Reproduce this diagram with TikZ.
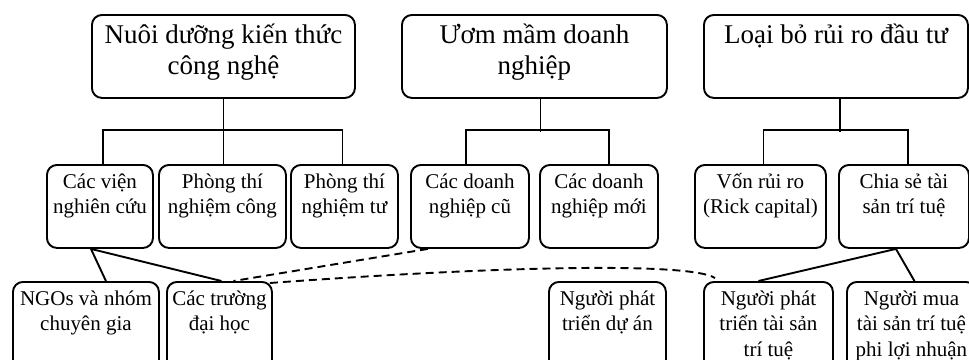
\documentclass[tikz,border=0pt]{standalone}
\usepackage{fontspec}
\setmainfont{Liberation Serif}
\begin{document}
\begin{tikzpicture}[x=1pt,y=-1pt,
  bx/.style={draw, line width=1.9pt, rounded corners=10pt, anchor=north west, inner sep=0pt},
  big/.style={anchor=north, align=center, inner sep=0pt, yshift=-5pt, font=\fontsize{27}{31}\selectfont},
  sm/.style={anchor=north, align=center, inner sep=0pt, yshift=-5pt, font=\fontsize{21}{25.5}\selectfont},
  con/.style={line width=1.9pt},
  dsh/.style={line width=1.9pt, dash pattern=on 8pt off 5pt}]
\clip (0,0) rectangle (969,359);
% top row
\node[bx, minimum width=263pt, minimum height=83pt, label={[big]north:{\rule{0pt}{24pt}Nuôi dưỡng kiến thức\\công nghệ}}] (t1) at (91,14) {};
\node[bx, minimum width=265pt, minimum height=83pt, label={[big]north:{\rule{0pt}{24pt}Ươm mầm doanh\\nghiệp}}] (t2) at (401,14) {};
\node[bx, minimum width=264pt, minimum height=83pt, label={[big]north:{\rule{0pt}{24pt}Loại bỏ rủi ro đầu tư}}] (t3) at (703,14) {};
% middle row
\node[bx, minimum width=106pt, minimum height=83pt, label={[sm]north:{\rule{0pt}{19pt}Các viện\\nghiên cứu}}] (m1) at (46,164) {};
\node[bx, minimum width=127pt, minimum height=83pt, label={[sm]north:{\rule{0pt}{19pt}Phòng thí\\nghiệm công}}] (m2) at (158,164) {};
\node[bx, minimum width=107pt, minimum height=83pt, label={[sm]north:{\rule{0pt}{19pt}Phòng thí\\nghiệm tư}}] (m3) at (290,164) {};
\node[bx, minimum width=118pt, minimum height=83pt, label={[sm]north:{\rule{0pt}{19pt}Các doanh\\nghiệp cũ}}] (m4) at (410,164) {};
\node[bx, minimum width=118pt, minimum height=83pt, label={[sm]north:{\rule{0pt}{19pt}Các doanh\\nghiệp mới}}] (m5) at (539,164) {};
\node[bx, minimum width=131pt, minimum height=83pt, label={[sm]north:{\rule{0pt}{19pt}Vốn rủi ro\\(Rick capital)}}] (m6) at (694,164) {};
\node[bx, minimum width=130pt, minimum height=83pt, label={[sm]north:{\rule{0pt}{19pt}Chia sẻ tài\\sản trí tuệ}}] (m7) at (838,164) {};
% bottom row
\node[bx, minimum width=146pt, minimum height=90pt, label={[sm]north:{\rule{0pt}{19pt}NGOs và nhóm\\chuyên gia}}] (b1) at (12,281) {};
\node[bx, minimum width=105pt, minimum height=90pt, label={[sm]north:{\rule{0pt}{19pt}Các trường\\đại học}}] (b2) at (166,281) {};
\node[bx, minimum width=117pt, minimum height=90pt, label={[sm]north:{\rule{0pt}{19pt}Người phát\\triển dự án}}] (b3) at (548,281) {};
\node[bx, minimum width=129pt, minimum height=90pt, label={[sm]north:{\rule{0pt}{19pt}Người phát\\triển tài sản\\trí tuệ}}] (b4) at (703,281) {};
\node[bx, minimum width=129pt, minimum height=90pt, label={[sm]north:{\rule{0pt}{19pt}Người mua\\tài sản trí tuệ\\phi lợi nhuận}}] (b5) at (846,281) {};
% tree connectors
\draw[con] (t1.south) -- (t1.south |- m2.north);
\draw[con] ([xshift=3pt]m1.north) -- ++(0,-34) -| ([xshift=-2pt]m3.north);
\draw[con] ([xshift=6pt]t2.south) -- ++(0,33);
\draw[con] ([xshift=-4pt]m4.north) -- ++(0,-34) -| ([xshift=10pt]m5.north);
\draw[con] ([xshift=4pt]t3.south) -- ++(0,33);
\draw[con] ([xshift=3pt]m6.north) -- ++(0,-34) -| ([xshift=4pt]m7.north);
% lower connectors
\draw[con] ([xshift=20pt]b1.north) -- ([xshift=-9pt]m1.south) -- ([xshift=2pt]b2.north);
\draw[con] ([xshift=-10pt]b4.north) -- ([xshift=-8pt]m7.south) -- ([xshift=3pt]b5.north);
% dashed links
\draw[dsh] ([xshift=-42pt]m4.south) -- ([xshift=14pt]b2.north);
\draw[dsh] ([xshift=-3pt,yshift=-2pt]b2.north east) .. controls (500,266) and (690,262) .. ([xshift=12pt,yshift=3pt]b4.north west);
\end{tikzpicture}
\end{document}
